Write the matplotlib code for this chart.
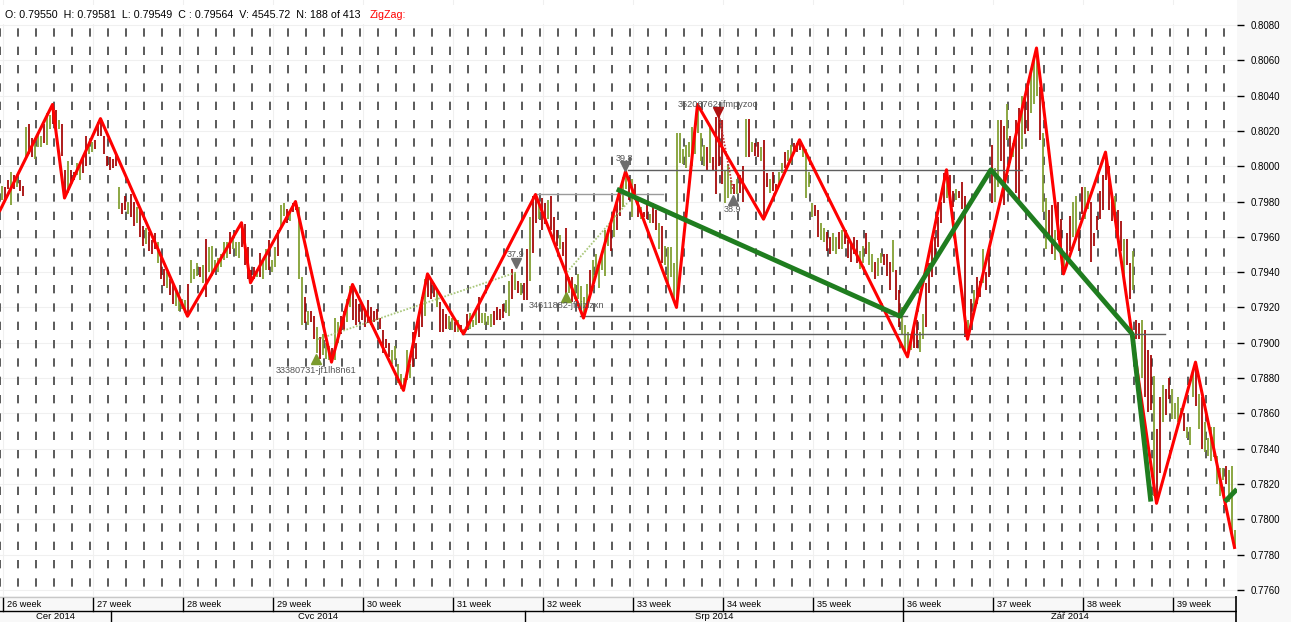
import matplotlib
matplotlib.use("Agg")
import matplotlib.pyplot as plt
from matplotlib.patches import Rectangle
import numpy as np

plt.rcParams['font.family'] = ['Liberation Sans', 'DejaVu Sans']
plt.rcParams['lines.scale_dashes'] = False

# ---------------- data ----------------
header_text = "O: 0.79550  H: 0.79581  L: 0.79549  C : 0.79564  V: 4545.72  N: 188 of 413"
indicator_name = "ZigZag:"

# 4-hour bars, direction (U = close above open, D = below), high / low in price x 10^4
bar_dir = (
    "UDDUDU" "DDUDDU" "UUDUUD" "DUDDUD" "DUUDDU"
    "UDDDDD" "DDDUDD" "UDDUDD" "UDDDUD" "DUDDUU"
    "UUDUUU" "DUDUUU" "UUUUDU" "UUDDDD" "DUDUUD"
    "UUDUUD" "UDDUUD" "UDDUDU" "UUDUUD" "DUUDDD"
    "DDDDDD" "DDDDUU" "UUUUUD" "DDDUDD" "DUDDDU"
    "UDUDUD" "UUUDUU" "UUDDDD" "UUDUDU" "DDUDDU"
    "DDUDDD" "UDDUDU" "UUUUDU" "UUUUUD" "UDDUUD"
    "UDDUDD" "UDDUDU" "UUUUUU" "UUUUUU" "UDUDDD"
    "DUUUDUD" "DUDUDD" "UDDUDD" "UUDUUD" "DDUUUU"
    "DDUUDD" "UUDUDD" "DDDUUD" "UUDUUD" "DDUDDU"
    "UUUDDU" "UDDDDD" "DDUDDU" "DDDUDU" "DDUDDDU"
)
bar_high = [
    7989, 7988, 7992, 7997, 7995, 7995, 7992, 7989, 8022, 8024, 8016, 8013,
    8019, 8017, 8024, 8030, 8029, 8035, 8032, 8026, 8024, 7998, 8003, 7998,
    7997, 8002, 8002, 8005, 8017, 8013, 8014, 8015, 8025, 8027, 8017, 8006,
    8005, 8004, 8007, 7988, 7979, 7983, 7980, 7984, 7980, 7977, 7975, 7966,
    7965, 7963, 7958, 7962, 7957, 7948, 7942, 7940, 7936, 7933, 7930, 7928,
    7925, 7924, 7933, 7947, 7942, 7945, 7943, 7944, 7959, 7954, 7955, 7947,
    7948, 7950, 7957, 7957, 7963, 7960, 7957, 7957, 7968, 7967, 7954, 7941,
    7943, 7941, 7951, 7947, 7953, 7958, 7947, 7954, 7964, 7978, 7979, 7976,
    7975, 7979, 7980, 7977, 7937, 7926, 7918, 7918, 7915, 7909, 7903, 7905,
    7900, 7898, 7897, 7914, 7912, 7915, 7918, 7925, 7932, 7933, 7925, 7922,
    7921, 7918, 7924, 7920, 7918, 7919, 7914, 7907, 7902, 7900, 7896, 7898,
    7888, 7882, 7880, 7896, 7888, 7906, 7900, 7917, 7926, 7936, 7939, 7936,
    7934, 7930, 7923, 7919, 7916, 7915, 7914, 7912, 7913, 7910, 7908, 7916,
    7917, 7913, 7918, 7926, 7917, 7917, 7915, 7916, 7918, 7920, 7919, 7922,
    7924, 7935, 7942, 7940, 7935, 7934, 7934, 7953, 7971, 7983, 7984, 7980,
    7982, 7979, 7981, 7983, 7971, 7964, 7961, 7957, 7965, 7937, 7937, 7933,
    7939, 7932, 7926, 7933, 7941, 7947, 7950, 7944, 7950, 7964, 7964, 7969,
    7973, 7979, 7987, 7994, 7997, 7994, 7993, 7990, 7981, 7977, 7974, 7979,
    7973, 7979, 7975, 7968, 7966, 7955, 7954, 7954, 7945, 8019, 8019, 8010,
    8012, 8014, 8022, 8022, 8035, 8019, 8012, 8011, 8022, 8005, 8028, 8029,
    8026, 7998, 8001, 7992, 7990, 7993, 7995, 8000, 8027, 8027, 8014, 8013,
    8014, 8011, 8015, 7996, 7993, 7997, 7990, 7997, 8002, 8008, 8009, 8012,
    8013, 8013, 8015, 8012, 8010, 7997, 7979, 7978, 7975, 7968, 7965, 7963,
    7960, 7962, 7960, 7963, 7964, 7962, 7958, 7956, 7960, 7958, 7952, 7955,
    7962, 7957, 7950, 7946, 7948, 7951, 7950, 7950, 7946, 7958, 7941, 7930,
    7920, 7910, 7906, 7905, 7910, 7913, 7906, 7916, 7934, 7945, 7959, 7960,
    7971, 7980, 7996, 7998, 7995, 7986, 7987, 7986, 7991, 7983, 7913, 7925,
    7930, 7937, 7935, 7953, 7940, 7952, 8012, 7999, 8026, 8026, 8023, 8035,
    8017, 8013, 8026, 8033, 8040, 8038, 8045, 8055, 8062, 8067, 8045, 8019,
    7982, 7975, 7978, 7964, 7980, 7970, 7950, 7962, 7972, 7980, 7983, 7965,
    7988, 7988, 7986, 7980, 7962, 7972, 7986, 7995, 8008, 8000, 7985, 7983,
    7975, 7969, 7959, 7959, 7945, 7952, 7913, 7911, 7913, 7907, 7896, 7893,
    7881, 7851, 7869, 7876, 7874, 7880, 7874, 7866, 7869, 7863, 7860, 7852,
    7852, 7884, 7889, 7871, 7869, 7855, 7846, 7852, 7852, 7836, 7829, 7829,
    7830, 7828, 7830, 7794,
]
bar_low = [
    7981, 7981, 7987, 7978, 7987, 7988, 7986, 7983, 8004, 8007, 8005, 8004,
    8011, 8011, 8013, 8012, 8021, 8024, 8021, 8021, 8006, 7982, 7985, 7990,
    7992, 7995, 7992, 7996, 8000, 8007, 8008, 8010, 8017, 8017, 8007, 8000,
    7998, 7999, 8000, 7976, 7973, 7975, 7973, 7971, 7966, 7968, 7960, 7955,
    7956, 7952, 7950, 7953, 7945, 7936, 7932, 7931, 7927, 7922, 7921, 7918,
    7919, 7917, 7915, 7934, 7936, 7938, 7937, 7934, 7926, 7940, 7938, 7942,
    7940, 7943, 7947, 7948, 7950, 7953, 7949, 7948, 7954, 7944, 7936, 7934,
    7936, 7937, 7937, 7936, 7941, 7941, 7940, 7943, 7949, 7965, 7972, 7968,
    7969, 7974, 7975, 7936, 7910, 7911, 7910, 7912, 7902, 7894, 7891, 7893,
    7891, 7890, 7889, 7890, 7900, 7905, 7907, 7912, 7920, 7913, 7910, 7912,
    7913, 7909, 7911, 7910, 7912, 7913, 7908, 7894, 7897, 7892, 7888, 7890,
    7877, 7874, 7873, 7879, 7880, 7886, 7891, 7903, 7909, 7915, 7926, 7925,
    7926, 7920, 7906, 7906, 7908, 7908, 7907, 7906, 7906, 7906, 7905, 7909,
    7908, 7909, 7910, 7911, 7911, 7910, 7910, 7909, 7910, 7913, 7913, 7914,
    7917, 7915, 7925, 7930, 7928, 7927, 7924, 7924, 7935, 7951, 7968, 7970,
    7964, 7967, 7970, 7964, 7958, 7955, 7953, 7949, 7926, 7928, 7923, 7925,
    7925, 7918, 7914, 7920, 7927, 7930, 7937, 7931, 7941, 7938, 7955, 7952,
    7960, 7964, 7972, 7977, 7987, 7981, 7971, 7981, 7971, 7970, 7971, 7970,
    7968, 7968, 7964, 7953, 7945, 7944, 7934, 7937, 7925, 7920, 8002, 8001,
    7999, 8005, 8000, 8007, 8019, 8003, 8000, 7998, 8002, 7998, 7984, 8000,
    7990, 7979, 7982, 7984, 7984, 7984, 7985, 7980, 8005, 8005, 8008, 8006,
    8005, 8003, 7970, 7988, 7985, 7986, 7985, 7989, 7996, 7999, 8003, 8002,
    8009, 8008, 8009, 8005, 7982, 7988, 7971, 7972, 7960, 7958, 7957, 7952,
    7950, 7952, 7950, 7953, 7953, 7956, 7948, 7946, 7950, 7945, 7942, 7945,
    7950, 7944, 7940, 7936, 7938, 7945, 7944, 7938, 7930, 7940, 7924, 7909,
    7905, 7895, 7892, 7896, 7897, 7897, 7895, 7902, 7909, 7928, 7937, 7945,
    7954, 7968, 7979, 7982, 7985, 7977, 7981, 7982, 7976, 7903, 7902, 7912,
    7916, 7922, 7926, 7934, 7930, 7937, 7979, 7980, 7988, 8003, 7978, 8015,
    8002, 8005, 7985, 7978, 8010, 8018, 8020, 8030, 8035, 8040, 8015, 7974,
    7953, 7960, 7950, 7947, 7958, 7950, 7939, 7946, 7952, 7960, 7958, 7952,
    7973, 7970, 7976, 7946, 7955, 7964, 7970, 7975, 7992, 7975, 7969, 7971,
    7960, 7952, 7934, 7944, 7925, 7930, 7902, 7902, 7880, 7869, 7861, 7862,
    7813, 7809, 7826, 7855, 7859, 7868, 7857, 7857, 7855, 7858, 7850, 7846,
    7842, 7869, 7864, 7851, 7840, 7838, 7836, 7833, 7835, 7820, 7813, 7822,
    7820, 7810, 7790, 7784,
]

# red ZigZag pivots (bar index, price)
zz_bar = [-0.5, 17, 21, 33, 62, 80, 83, 98, 110, 117, 134, 142, 154, 178, 194,
          208, 225, 232, 254, 266, 302, 315, 322, 345, 354, 368, 385, 398, 411]
zz_price = [0.7975, 0.8035, 0.7982, 0.8027, 0.7915, 0.7968, 0.7934, 0.7980,
            0.7889, 0.7933, 0.7873, 0.7939, 0.7905, 0.7984, 0.7914, 0.7997,
            0.7920, 0.8035, 0.7970, 0.8015, 0.7892, 0.7998, 0.7902, 0.8067,
            0.7939, 0.8008, 0.7809, 0.7889, 0.7784]

# green higher-degree swing
green_bar = [205.1, 299.5, 329.8, 376.9, 383.1]
green_price = [0.7987, 0.7915, 0.7998, 0.7905, 0.7810]
green2_bar = [407.8, 411.8]
green2_price = [0.7810, 0.7817]

# horizontal levels: (start bar, end bar, price, colour)
levels = [
    (208.8, 340.2, 0.7998, '#5f5f5f'),
    (177.8, 220.5, 0.7984, '#9a9a9a'),
    (192.8, 301.8, 0.7915, '#5f5f5f'),
    (153.5, 387.8, 0.7905, '#5f5f5f'),
]
# dotted connectors: (bar0, price0, bar1, price1, colour)
dotted = [
    (105.5, 0.7902, 171.8, 0.7940, '#a9c77a'),
    (188.5, 0.7940, 208.5, 0.7979, '#a9c77a'),
    (239.2, 0.8029, 243.8, 0.7987, '#c23a3a'),
]
# pattern markers: (bar, price, marker, colour, label, label offset px)
markers = [
    (104.8, 0.7891, '^', '#7b9b2e', '33380731-jf1lh8n61', -12),
    (171.5, 0.7945, 'v', '#6e6e6e', '37.9', 9),
    (188.2, 0.7926, '^', '#7b9b2e', '34611882-jfbjzlzxn', -9),
    (207.8, 0.8000, 'v', '#6e6e6e', '39.8', 8),
    (238.8, 0.80305, 'v', '#b01010', '35206762-jfmpyzoo', 8),
    (243.8, 0.7981, '^', '#6e6e6e', '38.9', -10),
]

week_labels = ["26 week", "27 week", "28 week", "29 week", "30 week", "31 week", "32 week",
               "33 week", "34 week", "35 week", "36 week", "37 week", "38 week", "39 week"]
month_labels = ["Čer 2014", "Čvc 2014", "Srp 2014", "Zář 2014"]
month_edges = [-0.5, 36.5, 174.5, 300.5, 411.83]

price_ticks = [0.7760, 0.7780, 0.7800, 0.7820, 0.7840, 0.7860, 0.7880, 0.7900, 0.7920,
               0.7940, 0.7960, 0.7980, 0.8000, 0.8020, 0.8040, 0.8060, 0.8080]

# ---------------- figure ----------------
W, H = 1291, 622
PX_R, PX_B = 1237, 596
fig = plt.figure(figsize=(W / 100, H / 100), dpi=100, facecolor='#f8f8f8')
ax = fig.add_axes([0, 1 - PX_B / H, PX_R / W, PX_B / H])
dax = fig.add_axes([0, 0, PX_R / W, (H - PX_B) / H])

XMIN, XMAX = -0.5, 411.83
YMIN, YMAX = 0.775649, 0.80942
ax.set_xlim(XMIN, XMAX)
ax.set_ylim(YMIN, YMAX)
ax.set_facecolor('white')
for s in ax.spines.values():
    s.set_visible(False)

# faint grid
for p in price_ticks:
    ax.axhline(p, color='#f0f0f0', lw=0.8, zorder=0)
for k in range(14):
    ax.axvline(0.5 + 30 * k, color='#f0f0f0', lw=0.8, zorder=0)

# daily dashed separators
for k in range(70):
    xd = 6 * k - 0.5
    ax.plot([xd, xd], [YMAX, YMIN], color='#5a5a5a', lw=1.4,
            ls=(6.0, (6.0, 7.2)), zorder=1)

# white strip behind the header line
ax.add_patch(Rectangle((0, 1 - 24 / PX_B), 1, 19 / PX_B, transform=ax.transAxes,
                       facecolor='white', edgecolor='none', zorder=1.5))

# bars
idx = np.arange(len(bar_high))
hi = np.array(bar_high) / 10000.0
lo = np.array(bar_low) / 10000.0
cols = ['#7d9c2c' if d == 'U' else '#a30000' for d in bar_dir[:len(idx)]]
ax.vlines(idx, lo, hi, colors=cols, lw=1.25, zorder=2)

# levels and dotted connectors
for x0, x1, p, c in levels:
    ax.plot([x0, x1], [p, p], color=c, lw=1.0, zorder=3)
for x0, p0, x1, p1, c in dotted:
    ax.plot([x0, x1], [p0, p1], color=c, lw=1.3, ls=(0, (1.2, 1.2)), zorder=3)

# zigzags
ax.plot(zz_bar, zz_price, color='#ff0000', lw=2.2, zorder=5)
ax.plot(green_bar, green_price, color='#1f7d1f', lw=3.5, zorder=6, solid_capstyle='butt')
ax.plot(green2_bar, green2_price, color='#1f7d1f', lw=3.5, zorder=6, solid_capstyle='butt')

# markers and labels
for xb, p, m, c, lab, off in markers:
    ax.plot([xb], [p], marker=m, ms=7, color=c, ls='none', zorder=7)
    ax.annotate(lab, (xb, p), xytext=(0, off * 0.72), textcoords='offset points',
                ha='center', va='center', fontsize=6.6, color='#555555', zorder=8)

# right price axis
ax.yaxis.tick_right()
ax.set_yticks(price_ticks)
ax.set_yticklabels([f"{p:.4f}" for p in price_ticks])
ax.tick_params(axis='y', length=5, width=1, pad=5, labelsize=7, colors='black')
ax.set_xticks([])

# header
fig.text(5 / W, 1 - 14.5 / H, header_text, fontsize=7.7, color='black', va='center', ha='left')
fig.text(370 / W, 1 - 14.5 / H, indicator_name, fontsize=7.7, color='#ff0000', va='center', ha='left')

# date axis
dax.set_xlim(XMIN, XMAX)
dax.set_ylim(26, 0)
dax.set_facecolor('white')
dax.axis('off')
dax.plot([XMIN, XMAX], [1, 1], color='#c8c8c8', lw=1)
dax.plot([XMIN, XMAX], [14.5, 14.5], color='black', lw=1)
dax.plot([XMAX - 0.2, XMAX - 0.2], [0, 26], color='black', lw=1.2)
for k, lab in enumerate(week_labels):
    wx = 0.5 + 30 * k
    dax.plot([wx, wx], [1.5, 14.5], color='black', lw=1)
    dax.text(wx + 1.3, 8.3, lab, fontsize=6.6, va='center', ha='left', color='black')
for k, lab in enumerate(month_labels):
    a, b = month_edges[k], month_edges[k + 1]
    if k > 0:
        dax.plot([a, a], [14.5, 26], color='black', lw=1)
    dax.text((a + b) / 2, 20.6, lab, fontsize=6.8, va='center', ha='center', color='black')

fig.savefig("out.png", dpi=100, facecolor=fig.get_facecolor())
